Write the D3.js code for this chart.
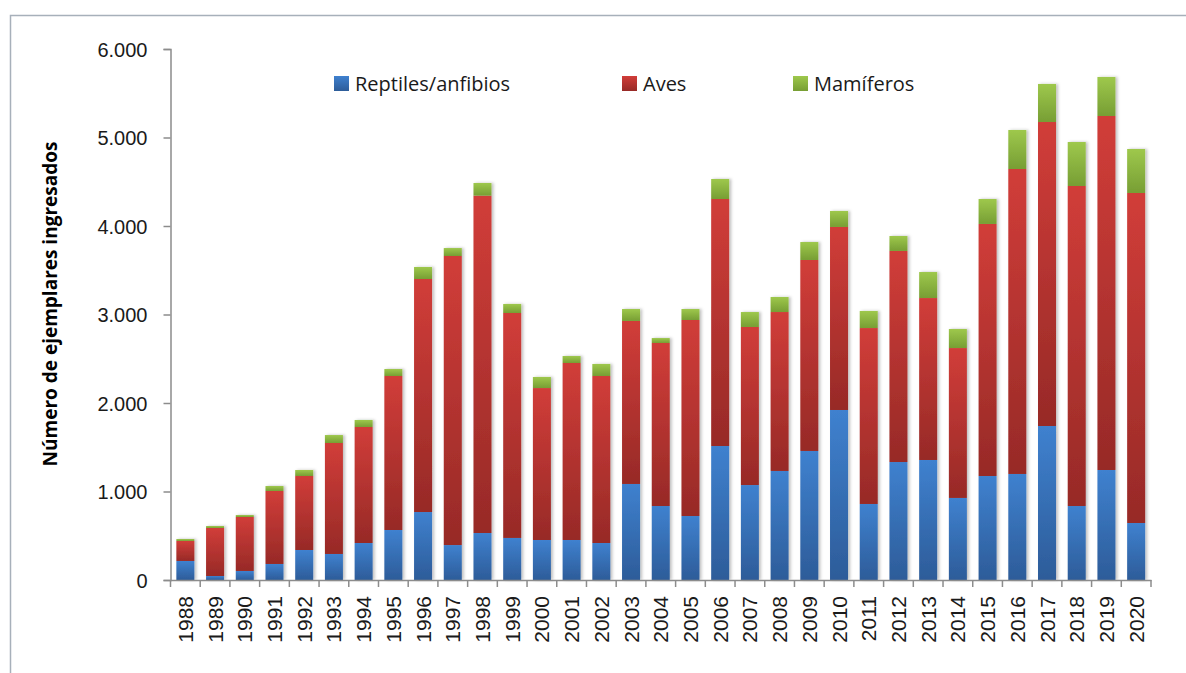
<!DOCTYPE html>
<html>
<head>
<meta charset="utf-8">
<script src="https://cdn.jsdelivr.net/npm/d3@7"></script>
<style>
  body { margin: 0; background: #fff; }
  svg { display: block; font-family: "Open Sans", sans-serif; }
</style>
</head>
<body>
<div id="chart"></div>
<script>
// data
const years = ["1988","1989","1990","1991","1992","1993","1994","1995","1996","1997","1998","1999","2000","2001","2002","2003","2004","2005","2006","2007","2008","2009","2010","2011","2012","2013","2014","2015","2016","2017","2018","2019","2020"];
const reptiles = [215,45,102,181,339,294,418,565,768,395,531,475,452,452,418,1085,836,723,1514,1073,1232,1458,1921,859,1333,1356,927,1175,1198,1740,836,1243,644];
const aves = [226,543,610,825,836,1254,1311,1740,2633,3266,3812,2542,1717,2000,1887,1842,1842,2215,2791,1786,1796,2158,2068,1988,2385,1830,1694,2848,3446,3435,3616,4000,3729];
const mamiferos = [22,22,22,56,68,90,79,79,136,90,143,102,125,79,136,135,56,124,226,169,170,203,181,193,169,294,215,282,441,430,497,441,497];
const seriesNames = ["Reptiles/anfibios", "Aves", "Mamíferos"];
const yTicks = [0, 1000, 2000, 3000, 4000, 5000, 6000];

const W = 1186, H = 673;
const colors = {
  "Reptiles/anfibios": ["#3f81cf", "#2d5c99"],
  "Aves": ["#d13d39", "#972a27"],
  "Mamíferos": ["#9ec84c", "#779e34"]
};

const svg = d3.select("#chart").append("svg")
  .attr("width", W)
  .attr("height", H);

const defs = svg.append("defs");
seriesNames.forEach(function (s, i) {
  const g = defs.append("linearGradient")
    .attr("id", "grad" + i)
    .attr("x1", 0).attr("y1", 0).attr("x2", 0).attr("y2", 1);
  g.append("stop").attr("offset", "0%").attr("stop-color", colors[s][0]);
  g.append("stop").attr("offset", "100%").attr("stop-color", colors[s][1]);
});
const shadow = defs.append("filter").attr("id", "shadow")
  .attr("x", "-20%").attr("y", "-5%").attr("width", "160%").attr("height", "110%");
shadow.append("feDropShadow")
  .attr("dx", 2).attr("dy", 0).attr("stdDeviation", 1.5)
  .attr("flood-color", "#000").attr("flood-opacity", 0.25);

// outer frame
svg.append("rect")
  .attr("x", 10.5).attr("y", 15.5)
  .attr("width", W).attr("height", H)
  .attr("fill", "none")
  .attr("stroke", "#a7b0ba")
  .attr("stroke-width", 1.5);

const x = d3.scaleBand()
  .domain(years)
  .range([170.5, 1151])
  .paddingInner(0.394)
  .paddingOuter(0.197);

const y = d3.scaleLinear().domain([0, 6000]).range([580, 49]);

// stacked data
const table = years.map(function (yr, i) {
  return { year: yr, "Reptiles/anfibios": reptiles[i], "Aves": aves[i], "Mamíferos": mamiferos[i] };
});
const stacked = d3.stack().keys(seriesNames)(table);

const bars = svg.append("g").attr("filter", "url(#shadow)");
stacked.forEach(function (layer, i) {
  bars.append("g")
    .attr("fill", "url(#grad" + i + ")")
    .selectAll("rect")
    .data(layer)
    .enter()
    .append("rect")
    .attr("x", function (d) { return x(d.data.year); })
    .attr("y", function (d) { return y(d[1]); })
    .attr("width", x.bandwidth())
    .attr("height", function (d) { return y(d[0]) - y(d[1]); });
});

// Y axis
const yAxis = svg.append("g")
  .attr("transform", "translate(170.5,0)")
  .call(d3.axisLeft(y)
    .tickValues(yTicks)
    .tickSize(7)
    .tickPadding(16)
    .tickFormat(function (d) { return d === 0 ? "0" : d3.format(",")(d).replace(/,/g, "."); }));
yAxis.select(".domain").attr("stroke", "#8c8c8c").attr("stroke-width", 1.5);
yAxis.selectAll(".tick line").attr("stroke", "#8c8c8c").attr("stroke-width", 1.5);
yAxis.selectAll(".tick text")
  .attr("fill", "#1a1a1a")
  .style("font-size", "20px")
  .attr("dy", "0.36em");

// X axis: labels at band centres, ticks at band boundaries
const xAxis = svg.append("g")
  .attr("transform", "translate(0,580)")
  .call(d3.axisBottom(x).tickSize(0).tickPadding(0));
xAxis.select(".domain").attr("stroke", "#8c8c8c").attr("stroke-width", 1.5);
xAxis.selectAll(".tick text")
  .attr("fill", "#1a1a1a")
  .style("font-size", "21px")
  .attr("text-anchor", "end")
  .attr("transform", "translate(0,16) rotate(-90)")
  .attr("x", 0)
  .attr("y", 0)
  .attr("dy", "0.36em");

const gap = (x.step() - x.bandwidth()) / 2;
const bounds = years.map(function (yr) { return x(yr) - gap; }).concat([x.range()[1]]);
xAxis.selectAll(".bound")
  .data(bounds)
  .enter()
  .append("line")
  .attr("class", "bound")
  .attr("x1", function (d) { return d; })
  .attr("x2", function (d) { return d; })
  .attr("y1", 0)
  .attr("y2", 7)
  .attr("stroke", "#8c8c8c")
  .attr("stroke-width", 1.5);

// Y axis title
svg.append("text")
  .attr("transform", "translate(57,304) rotate(-90)")
  .attr("text-anchor", "middle")
  .attr("font-weight", "700")
  .style("font-size", "19px")
  .attr("fill", "#000")
  .text("Número de ejemplares ingresados");

// legend
const legendX = [334, 622, 793];
const legend = svg.append("g");
seriesNames.forEach(function (s, i) {
  legend.append("rect")
    .attr("x", legendX[i])
    .attr("y", 76)
    .attr("width", 15)
    .attr("height", 15)
    .attr("fill", "url(#grad" + i + ")");
  legend.append("text")
    .attr("x", legendX[i] + 21)
    .attr("y", 83.5)
    .attr("dy", "0.36em")
    .attr("fill", "#1a1a1a")
    .style("font-size", "20px")
    .text(s);
});
</script>
</body>
</html>
